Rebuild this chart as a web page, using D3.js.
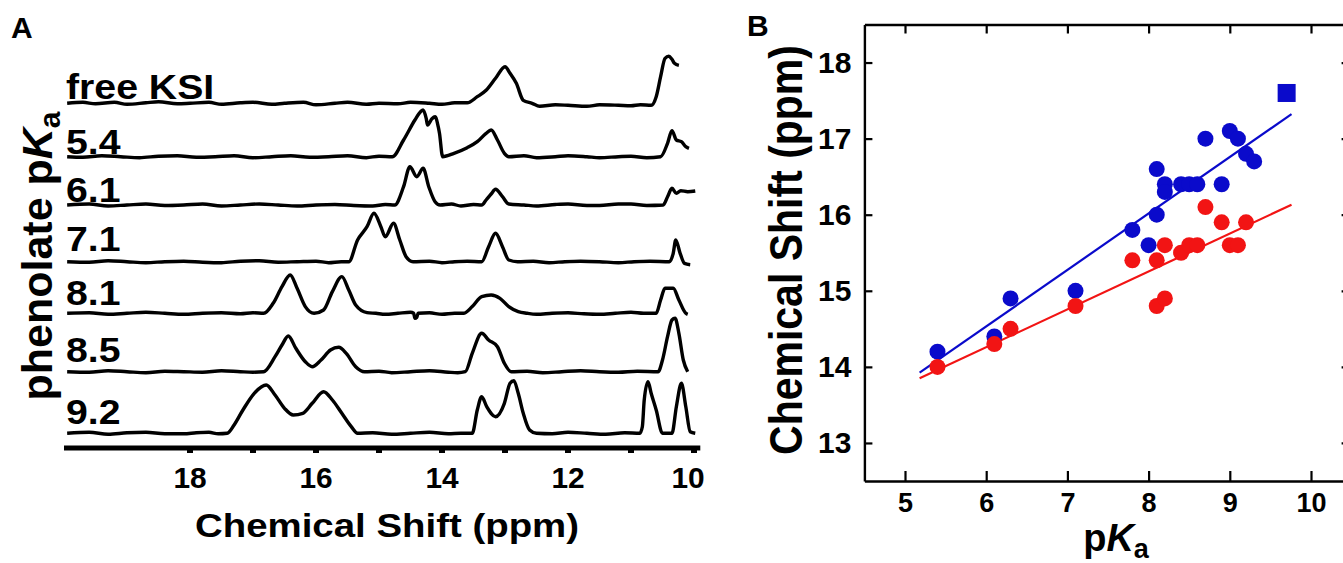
<!DOCTYPE html>
<html><head><meta charset="utf-8">
<script src="https://cdn.jsdelivr.net/npm/d3@7/dist/d3.min.js"></script>
<style>
html,body{margin:0;padding:0;background:#fff;}
svg text{font-family:"Liberation Sans",Arial,Helvetica,sans-serif;font-weight:bold;fill:#000;}
</style></head>
<body><svg id="chart" width="1343" height="563"></svg>
<script>
// ---------------- DATA ----------------
// Panel A: spectra labels (phenolate pKa) and stacking offsets (intensity units)
const spectrumLabels = ["free KSI","5.4","6.1","7.1","8.1","8.5","9.2"];
const spectrumOffsets = [330, 276.6, 228.3, 171.6, 120, 61.6, 0];
// traced spectra: [chemical shift (ppm), intensity]
const specFree = [[19.95,0],[19.7,1],[19.5,-0.5],[19.2,1],[19.0,-1],[18.7,0.5],[18.5,1.5],[18.2,-0.5],[18.0,0],[17.7,1],[17.5,-1],[17.2,0.5],[17.0,1],[16.7,-1],[16.5,0],[16.2,1],[16.0,-1.5],[15.7,0],[15.5,1],[15.2,-1],[15.0,0],[14.7,-0.5],[14.5,1],[14.2,0],[14.0,-1],[13.8,0.5],[13.6,0.5],[13.44,6.6],[13.30,13],[13.15,25],[13.0,36.6],[12.92,30],[12.82,20],[12.71,3],[12.57,0],[12.45,-3],[12.2,-1.5],[12.0,-2],[11.7,-3],[11.5,-1.5],[11.2,-2],[11.0,-2.5],[10.85,-1.5],[10.68,-2],[10.6,6.6],[10.53,26.6],[10.46,45],[10.40,47],[10.35,44],[10.31,40],[10.24,38]];
const spec54 = [[19.95,0],[19.7,-0.5],[19.4,1],[19.1,0],[18.8,-1],[18.5,0.5],[18.2,1],[17.9,-0.5],[17.6,0],[17.3,1],[17.0,-1],[16.7,0],[16.4,1],[16.1,-0.5],[15.8,0],[15.5,1],[15.2,-1],[15.0,0.5],[14.79,0],[14.61,16.7],[14.43,36.7],[14.34,45],[14.30,46.7],[14.25,38],[14.23,31.7],[14.16,38],[14.11,40],[14.06,30],[14.04,23.4],[13.99,0],[13.81,3.4],[13.6,9],[13.44,15],[13.30,23.4],[13.22,26.7],[13.12,16.7],[13.01,3.4],[12.94,0],[12.7,1],[12.5,-1],[12.2,0],[12.0,1],[11.7,0],[11.5,-1],[11.2,0],[11.0,0.5],[10.75,-1],[10.53,0],[10.42,13.4],[10.35,26],[10.28,16.7],[10.20,15],[10.13,10],[10.08,8.4]];
const spec61 = [[19.95,0],[19.6,1],[19.3,-1],[19.0,0],[18.7,1],[18.4,-0.5],[18.1,0],[17.8,1],[17.5,-1],[17.2,0],[16.9,1],[16.6,0],[16.3,-1],[16.0,0],[15.7,0.5],[15.4,-0.5],[15.1,-1],[14.9,0.5],[14.75,0],[14.61,18.3],[14.51,38.3],[14.40,28.3],[14.30,36.7],[14.21,18.3],[14.11,3.3],[14.03,0],[13.85,1],[13.7,-1],[13.5,0.5],[13.37,0],[13.30,5],[13.22,11],[13.15,15.7],[13.04,8.3],[12.94,1],[12.7,0],[12.5,-1],[12.2,0.5],[12.0,1],[11.7,-0.5],[11.5,-0.5],[11.2,1],[11.0,1],[10.75,-0.5],[10.49,0],[10.42,8.3],[10.35,16.7],[10.28,11.7],[10.21,14.3],[10.1,13.3],[9.98,14]];
const spec71 = [[19.95,0],[19.6,-0.5],[19.3,1],[19.0,0],[18.7,-1],[18.4,0],[18.1,0.5],[17.8,-0.5],[17.5,-1],[17.2,0.5],[16.9,1],[16.6,-0.5],[16.3,0],[16.0,0.5],[15.8,-1],[15.6,0],[15.48,0],[15.34,21.7],[15.19,35],[15.08,48.4],[14.97,35],[14.90,25],[14.77,38.4],[14.67,21.7],[14.57,5],[14.46,0],[14.2,0.5],[14.0,-1],[13.8,0],[13.6,0.5],[13.37,0],[13.26,15],[13.15,28.4],[13.04,15],[12.94,1.7],[12.8,0],[12.55,0.5],[12.3,-1],[12.05,0],[11.8,0.5],[11.5,0],[11.2,-1],[10.95,0],[10.7,0.5],[10.39,0],[10.33,8.4],[10.29,21.7],[10.22,8.4],[10.15,-1.7],[10.06,-3]];
const spec81 = [[19.95,0],[19.6,0.5],[19.3,-1],[19.0,0],[18.7,1],[18.4,0],[18.1,-1],[17.8,0],[17.5,0.5],[17.2,-0.5],[17.0,0.5],[16.83,0],[16.68,10],[16.54,26.7],[16.41,38.3],[16.30,25],[16.17,6.7],[16.03,0],[15.88,3.3],[15.74,21.7],[15.59,36.7],[15.48,23.3],[15.37,8.3],[15.19,0.7],[15.05,0],[14.9,-1],[14.7,0],[14.5,1],[14.45,0],[14.43,-5],[14.40,-4],[14.38,0],[14.2,0.5],[14.0,-1],[13.8,0],[13.66,0],[13.52,6.7],[13.37,16.7],[13.22,18.3],[13.08,15],[12.94,6.7],[12.79,1.7],[12.65,0],[12.5,-1],[12.25,0],[12.0,0.5],[11.75,-0.5],[11.5,-1],[11.25,0],[11.0,1],[10.8,0],[10.6,0],[10.53,13.3],[10.46,25],[10.33,25],[10.24,13.3],[10.13,0],[10.1,-1]];
const spec85 = [[19.95,0],[19.6,-0.5],[19.3,1],[19.0,0],[18.7,-1],[18.4,0.5],[18.1,0],[17.8,-0.5],[17.5,1],[17.2,0],[17.0,-0.5],[16.83,0],[16.65,15],[16.54,26.7],[16.44,35.7],[16.32,23.4],[16.17,10],[16.06,5],[15.92,11.7],[15.77,21.7],[15.64,24.4],[15.52,18.4],[15.37,5],[15.23,0],[15.0,0.5],[14.8,-1],[14.5,0],[14.2,1],[13.9,-0.5],[13.75,-1],[13.63,0],[13.52,18.4],[13.37,38.4],[13.26,31.7],[13.12,25],[13.01,8.4],[12.90,0],[12.65,0.5],[12.4,-1],[12.1,0],[11.8,1],[11.5,0],[11.2,-0.5],[10.9,0.5],[10.57,0],[10.50,11.7],[10.42,35],[10.35,51.7],[10.30,53.4],[10.24,38.4],[10.17,11.7],[10.1,0]];
const spec92 = [[19.95,0],[19.6,1],[19.3,-1],[19.0,0.5],[18.7,1],[18.4,-0.5],[18.1,-0.5],[17.9,0.5],[17.7,1],[17.55,-0.5],[17.41,0],[17.30,8.3],[17.16,23.3],[16.98,40],[16.79,48.3],[16.65,38.3],[16.50,25],[16.36,18.3],[16.21,20],[16.06,30],[15.88,41.6],[15.74,33.3],[15.59,20],[15.44,6.6],[15.34,0],[15.1,0.5],[14.8,-1],[14.5,0],[14.2,1],[13.9,-0.5],[13.7,0],[13.52,0],[13.44,23.3],[13.37,36.6],[13.29,26.6],[13.15,16.6],[13.01,30],[12.92,50],[12.86,52.6],[12.79,40],[12.71,20],[12.61,3.3],[12.50,0],[12.25,-0.5],[12.0,1],[11.7,0],[11.4,-1],[11.1,0.5],[10.86,0],[10.82,6.6],[10.79,33.3],[10.73,51.6],[10.68,40],[10.60,23.3],[10.50,0],[10.35,0],[10.28,26.6],[10.20,50],[10.13,26.6],[10.06,1.6],[9.98,0]];
const spectra = [specFree, spec54, spec61, spec71, spec81, spec85, spec92];
const shiftTicks = [18,17,16,15,14,13,12,11,10];
const shiftTickLabels = [18,16,14,12,10];

// Panel B: pKa vs chemical shift
const bluePKa   = [5.4,6.1,6.3,7.1,7.8,8.0,8.1,8.1,8.2,8.2,8.4,8.5,8.6,8.7,8.9,9.0,9.1,9.2,9.3];
const blueShift = [14.2,14.4,14.9,15.0,15.8,15.6,16.0,16.6,16.4,16.3,16.4,16.4,16.4,17.0,16.4,17.1,17.0,16.8,16.7];
const redPKa    = [5.4,6.1,6.3,7.1,7.8,8.1,8.1,8.2,8.2,8.4,8.5,8.6,8.7,8.9,9.0,9.1,9.2];
const redShift  = [14.0,14.3,14.5,14.8,15.4,15.4,14.8,14.9,15.6,15.5,15.6,15.6,16.1,15.9,15.6,15.6,15.9];
const squarePKa = [9.7];
const squareShift = [17.6];
const blueFit = [0.742, 10.08];   // slope, intercept
const redFit  = [0.498, 11.27];
const fitRange = [5.18, 9.76];
const pkaTicks = [5,6,7,8,9,10];
const csTicks = [13,14,15,16,17,18];

// ---------------- DRAW ----------------
const svg = d3.select("#chart");
const FONT = '"Liberation Sans", Arial, sans-serif';
function txt(g, x, y, s, size, sx, anchor) {
  return g.append("text")
    .attr("transform", `translate(${x},${y}) scale(${sx},1)`)
    .attr("font-size", size).attr("text-anchor", anchor || "start").text(s);
}

// ---- Panel A ----
const gA = svg.append("g");
const xA = d3.scaleLinear().domain([20, 10]).range([64, 694]);
const yA = d3.scaleLinear().domain([0, 400]).range([433.3, 33.3]);
const lineA = d3.line().x(d => xA(d[0])).y(d => yA(d[1])).curve(d3.curveMonotoneX);

spectra.forEach((sp, i) => {
  const off = spectrumOffsets[i];
  gA.append("path")
    .datum(sp.map(p => [p[0], p[1] + off]))
    .attr("d", lineA)
    .attr("fill", "none").attr("stroke", "#000").attr("stroke-width", 3.4)
    .attr("stroke-linejoin", "round");
});
const labelDy = [4, 3, 3, 11, 8, 9.5, 9.5];
spectrumLabels.forEach((l, i) => {
  txt(gA, 66, yA(spectrumOffsets[i]) - labelDy[i], l, 36, 1.09, "start");
});
// axis
gA.append("line").attr("x1", xA(20)).attr("x2", xA(9.9)).attr("y1", 448).attr("y2", 448)
  .attr("stroke", "#000").attr("stroke-width", 5);
gA.selectAll("rect.tk").data(shiftTicks).enter().append("rect")
  .attr("x", d => xA(d) - 3).attr("y", 448).attr("width", 6).attr("height", 5).attr("fill", "#000");
shiftTickLabels.forEach(v => txt(gA, xA(v) - (v === 10 ? 6 : 0), 488, String(v), 29, 1.03, "middle"));
txt(gA, 387, 537, "Chemical Shift (ppm)", 34, 1.13, "middle");
{
  const t = gA.append("text").attr("transform", "translate(52,256) rotate(-90)")
    .attr("font-size", 43).attr("text-anchor", "middle");
  t.append("tspan").text("phenolate p");
  t.append("tspan").attr("font-style", "italic").text("K");
  t.append("tspan").attr("font-size", 30).attr("dy", 8).text("a");
}
txt(svg, 11, 38, "A", 30, 1.0, "start");

// ---- Panel B ----
const gB = svg.append("g");
const xB = d3.scaleLinear().domain([4.5, 10.5]).range([864.4, 1351.6]);
const yB = d3.scaleLinear().domain([12.5, 18.5]).range([481, 24.5]);
const axStyle = g => { g.select(".domain").attr("stroke-width", 2.4); g.selectAll(".tick line").attr("stroke-width", 2.2); };
gB.append("g").attr("transform", `translate(0,${yB(12.5)})`)
  .call(d3.axisBottom(xB).tickValues(pkaTicks).tickSizeInner(-10).tickSizeOuter(0).tickPadding(12).tickFormat(d3.format("d")))
  .call(axStyle).call(g => g.selectAll("text").attr("font-size", 27).attr("font-family", FONT).attr("font-weight", "bold"));
gB.append("g").attr("transform", `translate(0,${yB(18.5)})`)
  .call(d3.axisTop(xB).tickValues(pkaTicks).tickSizeInner(-9).tickSizeOuter(0).tickFormat(""))
  .call(axStyle);
gB.append("g").attr("transform", `translate(${xB(4.5)},0)`)
  .call(d3.axisLeft(yB).tickValues(csTicks).tickSizeInner(-8).tickSizeOuter(0).tickPadding(13).tickFormat(d3.format("d")))
  .call(axStyle).call(g => g.selectAll("text").attr("font-size", 30).attr("font-family", FONT).attr("font-weight", "bold"));
gB.append("g").attr("transform", `translate(${xB(10.5)},0)`)
  .call(d3.axisRight(yB).tickValues(csTicks).tickSizeInner(-10).tickSizeOuter(0).tickFormat(""))
  .call(axStyle);

const BLUE = "#0a0acb", RED = "#f21414";
[[blueFit, BLUE], [redFit, RED]].forEach(([f, c]) => {
  gB.append("line")
    .attr("x1", xB(fitRange[0])).attr("y1", yB(f[0] * fitRange[0] + f[1]))
    .attr("x2", xB(fitRange[1])).attr("y2", yB(f[0] * fitRange[1] + f[1]))
    .attr("stroke", c).attr("stroke-width", 2.2);
});
gB.selectAll("circle.b").data(bluePKa.map((p, i) => [p, blueShift[i]])).enter().append("circle")
  .attr("cx", d => xB(d[0])).attr("cy", d => yB(d[1])).attr("r", 8).attr("fill", BLUE);
gB.selectAll("circle.r").data(redPKa.map((p, i) => [p, redShift[i]])).enter().append("circle")
  .attr("cx", d => xB(d[0])).attr("cy", d => yB(d[1])).attr("r", 8).attr("fill", RED);
gB.selectAll("rect.sq").data(squarePKa.map((p, i) => [p, squareShift[i]])).enter().append("rect")
  .attr("x", d => xB(d[0]) - 9).attr("y", d => yB(d[1]) - 9).attr("width", 18).attr("height", 18).attr("fill", BLUE);

{
  const t = gB.append("text").attr("transform", "translate(802,250) scale(1.12,1) rotate(-90)")
    .attr("font-size", 41).attr("text-anchor", "middle");
  t.text("Chemical Shift (ppm)");
}
{
  const t = gB.append("text").attr("transform", "translate(1116,551)")
    .attr("font-size", 38).attr("text-anchor", "middle");
  t.append("tspan").text("p");
  t.append("tspan").attr("font-style", "italic").text("K");
  t.append("tspan").attr("font-size", 27).attr("dy", 7).text("a");
}
txt(svg, 747, 36, "B", 30, 1.0, "start");
</script></body></html>
